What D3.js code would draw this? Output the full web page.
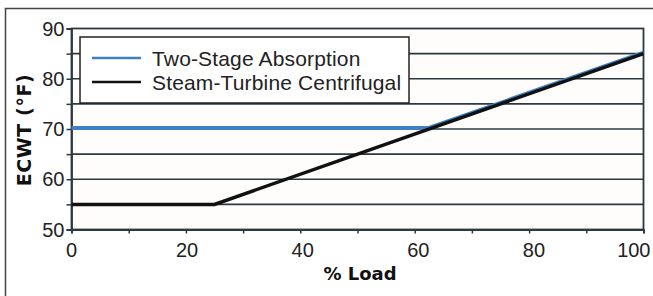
<!DOCTYPE html>
<html>
<head>
<meta charset="utf-8">
<script src="https://cdn.jsdelivr.net/npm/d3@7"></script>
<style>
  body { margin: 0; background: #fff; }
  svg { display: block; font-family: 'Liberation Sans', Arial, sans-serif; }
</style>
</head>
<body>
<div id="chart"></div>
<script>
// Data
const absorptionLoad = [0, 62.5, 100];
const absorptionEcwt = [70, 70, 85];
const turbineLoad = [0, 25, 100];
const turbineEcwt = [55, 55, 85];
const xTicks = [0, 20, 40, 60, 80, 100];
const yTicks = [50, 60, 70, 80, 90];
const seriesNames = ['Two-Stage Absorption', 'Steam-Turbine Centrifugal'];
const seriesColors = ['#3f80c4', '#111111'];

const W = 653, H = 296;
const margin = { left: 71.5, right: 9.5, top: 28.5, bottom: 66.5 };
const width = W - margin.left - margin.right;
const height = H - margin.top - margin.bottom;

const svg = d3.select('#chart').append('svg')
  .attr('width', W)
  .attr('height', H);

// outer frame (runs off the right and bottom edges)
svg.append('rect')
  .attr('x', 5.5).attr('y', 8.5)
  .attr('width', W + 10).attr('height', H + 10)
  .attr('fill', 'none')
  .attr('stroke', '#444')
  .attr('stroke-width', 1.5);

const g = svg.append('g')
  .attr('transform', 'translate(' + margin.left + ',' + margin.top + ')');

const x = d3.scaleLinear().domain([0, 100]).range([0, width]);
const y = d3.scaleLinear().domain([50, 90]).range([height, 0]);

// plot background
g.append('rect')
  .attr('width', width).attr('height', height)
  .attr('fill', '#fffdfb');

// gridlines every 5
g.append('g')
  .selectAll('line')
  .data(d3.range(55, 90, 5))
  .join('line')
  .attr('x1', 0).attr('x2', width)
  .attr('y1', d => y(d)).attr('y2', d => y(d))
  .attr('stroke', '#2c3a40')
  .attr('stroke-width', 1.6);

// plot frame
g.append('rect')
  .attr('width', width).attr('height', height)
  .attr('fill', 'none')
  .attr('stroke', '#2c3a40')
  .attr('stroke-width', 1.8);

// x axis
const xAxis = g.append('g')
  .attr('transform', 'translate(0,' + height + ')')
  .call(d3.axisBottom(x).tickValues(d3.range(0, 101, 10)).tickSize(4).tickFormat(''));
xAxis.select('.domain').attr('stroke', '#2c3a40').attr('stroke-width', 1.8);
xAxis.selectAll('.tick line').attr('stroke', '#2c3a40').attr('stroke-width', 1.5);

g.append('g')
  .selectAll('text')
  .data(xTicks)
  .join('text')
  .attr('x', d => d === 100 ? x(d) + 7 : x(d) + d * 0.06)
  .attr('y', height + 27)
  .attr('text-anchor', d => d === 100 ? 'end' : 'middle')
  .attr('font-size', '20px')
  .attr('fill', '#222')
  .text(d => d);

// y axis
const yAxis = g.append('g')
  .call(d3.axisLeft(y).tickValues(d3.range(50, 91, 5)).tickSize(5).tickFormat(''));
yAxis.select('.domain').attr('stroke', '#2c3a40').attr('stroke-width', 1.8);
yAxis.selectAll('.tick line').attr('stroke', '#2c3a40').attr('stroke-width', 1.5);

g.append('g')
  .selectAll('text')
  .data(yTicks)
  .join('text')
  .attr('x', -7)
  .attr('y', d => y(d))
  .attr('dy', '0.36em')
  .attr('text-anchor', 'end')
  .attr('font-size', '20px')
  .attr('fill', '#222')
  .text(d => d);

// axis titles
svg.append('text')
  .attr('transform', 'translate(31,' + 130 + ') rotate(-90)')
  .attr('text-anchor', 'middle')
  .attr('font-family', 'DejaVu Sans, sans-serif')
  .attr('font-weight', 'bold')
  .attr('font-size', '19px')
  .attr('letter-spacing', '0.6px')
  .attr('fill', '#111')
  .text('ECWT (°F)');

svg.append('text')
  .attr('x', 360)
  .attr('y', 280)
  .attr('text-anchor', 'middle')
  .attr('font-family', 'DejaVu Sans, sans-serif')
  .attr('font-weight', 'bold')
  .attr('font-size', '18px')
  .attr('fill', '#111')
  .text('% Load');

// lines
const line = d3.line().x(d => x(d[0])).y(d => y(d[1]));

g.append('path')
  .datum(absorptionLoad.map((d, i) => [d, absorptionEcwt[i]]))
  .attr('fill', 'none')
  .attr('stroke', seriesColors[0])
  .attr('stroke-width', 4)
  .attr('transform', 'translate(0,-1)')
  .attr('d', line);

g.append('path')
  .datum(turbineLoad.map((d, i) => [d, turbineEcwt[i]]))
  .attr('fill', 'none')
  .attr('stroke', seriesColors[1])
  .attr('stroke-width', 3.5)
  .attr('d', line);

// legend
const legend = svg.append('g').attr('transform', 'translate(80,37)');
legend.append('rect')
  .attr('width', 329).attr('height', 66)
  .attr('fill', '#fff')
  .attr('stroke', '#222')
  .attr('stroke-width', 1.5);

const items = legend.selectAll('g.item')
  .data(seriesNames)
  .join('g')
  .attr('class', 'item')
  .attr('transform', (d, i) => 'translate(0,' + (21 + i * 24) + ')');
items.append('line')
  .attr('x1', 12).attr('x2', 61)
  .attr('stroke', (d, i) => seriesColors[i])
  .attr('stroke-width', 2.5);
items.append('text')
  .attr('x', 72)
  .attr('dy', '0.36em')
  .attr('font-size', '21px')
  .attr('letter-spacing', '0.15px')
  .attr('fill', '#222')
  .text(d => d);
</script>
</body>
</html>
